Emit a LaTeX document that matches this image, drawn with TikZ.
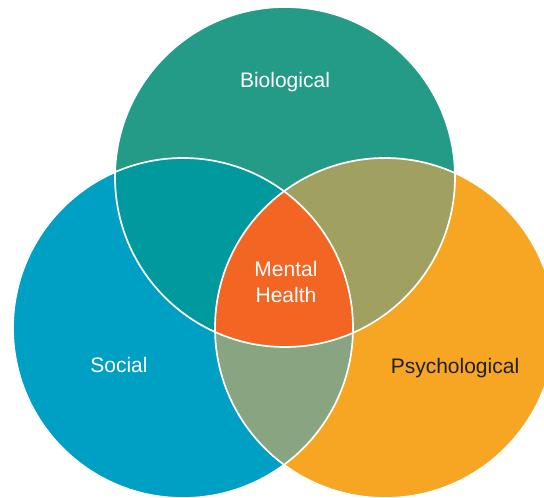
\documentclass[tikz,border=0pt]{standalone}
\usepackage{fontspec}
\setmainfont{Liberation Sans}
\begin{document}
\begin{tikzpicture}[x=1pt,y=-1pt,
  lbl/.style={anchor=base,inner sep=0pt,font=\fontsize{21}{27}\selectfont,text=white},
  rim/.style={draw=white,line width=1.7pt}]
\definecolor{bio}{RGB}{35,155,135}
\definecolor{soc}{RGB}{0,160,196}
\definecolor{psy}{RGB}{246,166,35}
\definecolor{biosoc}{RGB}{0,153,158}
\definecolor{biopsy}{RGB}{160,161,96}
\definecolor{socpsy}{RGB}{136,164,128}
\definecolor{mh}{RGB}{242,101,34}
\definecolor{dark}{RGB}{35,31,32}
\useasboundingbox (0,0) rectangle (544,498);
\clip (0,0) rectangle (544,498);
\coordinate (T) at (285,177);
\coordinate (L) at (183,328);
\coordinate (R) at (385,328);
\fill[bio] (T) circle (170pt);
\fill[soc] (L) circle (170pt);
\fill[psy] (R) circle (170pt);
\begin{scope}
  \clip (T) circle (170pt);
  \fill[biosoc] (L) circle (170pt);
  \fill[biopsy] (R) circle (170pt);
\end{scope}
\begin{scope}
  \clip (L) circle (170pt);
  \fill[socpsy] (R) circle (170pt);
  \clip (R) circle (170pt);
  \fill[mh] (T) circle (170pt);
\end{scope}
\draw[rim] (T) circle (170pt);
\draw[rim] (L) circle (170pt);
\draw[rim] (R) circle (170pt);
\node[lbl] (bio) at (285,87) {Biological};
\node[lbl] (soc) at (119,372.7) {Social};
\node[lbl,text=dark] (psy) at (455,373) {Psychological};
\node[lbl] (mh1) at (286,276.7) {Mental};
\node[lbl] (mh2) at (286,302.7) {Health};
\end{tikzpicture}
\end{document}
